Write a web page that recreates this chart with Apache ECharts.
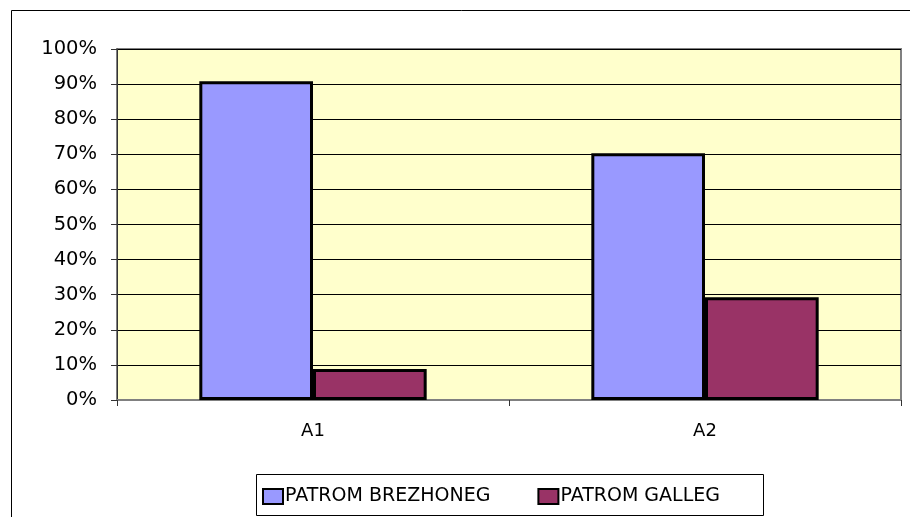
<!DOCTYPE html>
<html>
<head>
<meta charset="utf-8">
<script src="https://cdn.jsdelivr.net/npm/echarts@6/dist/echarts.min.js"></script>
<style>
  html, body { margin: 0; padding: 0; background: #ffffff; }
  #chart { width: 910px; height: 517px; }
</style>
</head>
<body>
<div id="chart"></div>
<script>
const categories = ['A1', 'A2'];
const seriesNames = ['PATROM BREZHONEG', 'PATROM GALLEG'];
const brezhonegValues = [90.8, 70.3];
const gallegValues = [8.8, 29.3];
const yTicks = [0, 100, 10];

const chart = echarts.init(document.getElementById('chart'), null, { renderer: 'canvas' });

const option = {
  animation: false,
  backgroundColor: '#ffffff',
  textStyle: { fontFamily: 'DejaVu Sans, sans-serif' },
  graphic: [
    {
      type: 'rect', z: 0,
      shape: { x: 11.5, y: 10.5, width: 1000, height: 1000 },
      style: { fill: 'none', stroke: '#000', lineWidth: 1 }
    },
    {
      type: 'rect', z: 0,
      shape: { x: 256.5, y: 474.5, width: 507, height: 41 },
      style: { fill: '#fff', stroke: '#000', lineWidth: 1 }
    }
  ],
  grid: {
    left: 117, right: 9, top: 49, bottom: 117,
    show: true,
    backgroundColor: '#FFFFCC',
    borderColor: '#808080',
    borderWidth: 2
  },
  legend: {
    left: 262, top: 487,
    itemWidth: 20, itemHeight: 15,
    itemGap: 47,
    padding: 0,
    textStyle: { fontSize: 19, color: '#000', fontFamily: 'DejaVu Sans', padding: [0, 0, 0, -3] },
    data: seriesNames.map(n => ({ name: n, icon: 'rect' }))
  },
  xAxis: {
    type: 'category',
    data: categories,
    axisLine: { show: true, lineStyle: { color: '#808080', width: 2 } },
    axisTick: { show: true, alignWithLabel: false, length: 6, lineStyle: { color: '#333', width: 1 } },
    axisLabel: { color: '#000', fontSize: 18, margin: 22, fontFamily: 'DejaVu Sans' },
    splitLine: { show: false }
  },
  yAxis: {
    type: 'value',
    min: yTicks[0], max: yTicks[1], interval: yTicks[2],
    axisLine: { show: true, lineStyle: { color: '#333', width: 1 } },
    axisTick: { show: true, length: 6, lineStyle: { color: '#333', width: 1 } },
    axisLabel: { color: '#000', fontSize: 19.5, margin: 20, formatter: '{value}%', fontFamily: 'DejaVu Sans' },
    splitLine: { show: true, lineStyle: { color: '#000', width: 1 } }
  },
  series: [
    {
      name: seriesNames[0], type: 'bar', data: brezhonegValues,
      barWidth: '29%', barGap: '0%',
      itemStyle: { color: '#9999FF', borderColor: '#000', borderWidth: 3 }
    },
    {
      name: seriesNames[1], type: 'bar', data: gallegValues,
      barWidth: '29%', barGap: '0%',
      itemStyle: { color: '#993366', borderColor: '#000', borderWidth: 3 }
    }
  ]
};

chart.setOption(option);
</script>
</body>
</html>
